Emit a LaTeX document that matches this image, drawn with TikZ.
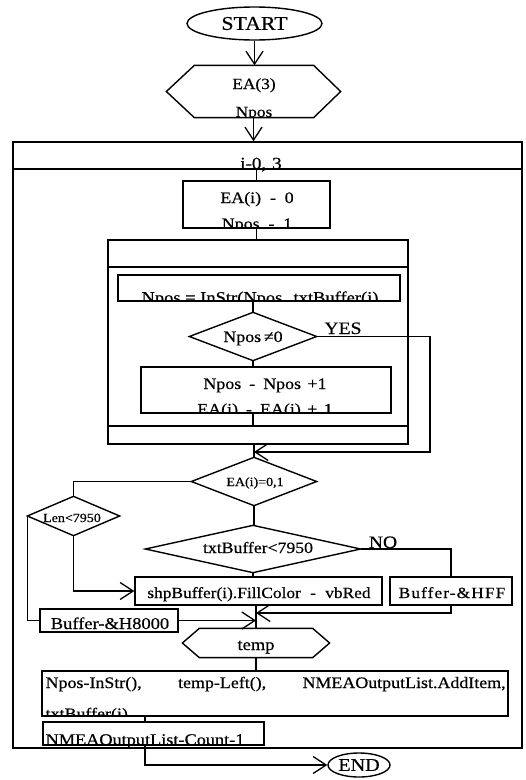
\documentclass[tikz,border=0pt]{standalone}
\usepackage{fontspec}
\setmainfont{Liberation Serif}[FakeStretch=1.12,FakeBold=0.5]
\usetikzlibrary{arrows.meta,shapes.geometric}
\newcommand{\fsz}[1]{\fontsize{#1}{#1}\selectfont}
\begin{document}
\begin{tikzpicture}[x=1pt,y=-1pt,
  line width=1.3pt,
  shp/.style={draw,line width=1.4pt,inner sep=0pt},
  ghost/.style={inner sep=0pt,rectangle},
  txt/.style={anchor=base,inner sep=0pt},
  txtl/.style={anchor=base west,inner sep=0pt},
  arr/.style={-{Straight Barb[length=13pt,width=17pt]},line width=1.3pt},
  ell/.style={shp,ellipse},
  lbl/.style={anchor=base,inner sep=0pt}]
\useasboundingbox (0,0) rectangle (526,780);
% ---------- shapes ----------
\node[ell,minimum width=135pt,minimum height=33pt] (start) at (254.5,23.5) {\fsz{19.5}START};
\node[ghost,minimum width=173pt,minimum height=51pt] (hexA) at (253.5,91.5) {};
\draw[line width=1.4pt] (hexA.west) -- ([xshift=28pt]hexA.north west) -- ([xshift=-27pt]hexA.north east)
  -- (hexA.east) -- ([xshift=-27pt]hexA.south east) -- ([xshift=28pt]hexA.south west) -- cycle;
\node[txt] (tEA3) at (254,89) {\fsz{15.5}EA(3)};
\begin{scope}
\clip (hexA.north west) rectangle (hexA.south east);
\node[txt] (tNpos0) at (254,117) {\fsz{15.5}Npos};
\end{scope}
% outer loop
\node[shp,minimum width=509pt,minimum height=606pt] (outer) at (267.5,445) {};
\draw[line width=1.4pt] (13,169) -- (522,169);
\coordinate (hdr) at (256.5,169);
\node[txt] (ti) at (261,169) {\fsz{17}i-0,\hspace{6pt}3};
\node[shp,minimum width=147pt,minimum height=47pt] (eabox) at (256.5,204.5) {};
\node[txt] (tea0) at (257,203) {\fsz{16}EA(i)\hspace{.55em}-\hspace{.55em}0};
\begin{scope}
\clip (eabox.north west) rectangle (eabox.south east);
\node[txt] (tnp1) at (257,229) {\fsz{16}Npos\hspace{.55em}-\hspace{.55em}1};
\end{scope}
% inner loop
\node[shp,minimum width=300pt,minimum height=204pt] (inner) at (258,342) {};
\draw[line width=1.4pt] (108,267) -- (408,267);
\draw[line width=1.4pt] (108,426) -- (408,426);
\coordinate (foot) at (253,426);
\node[shp,minimum width=282pt,minimum height=26pt] (instr) at (259,288) {};
\begin{scope}
\clip (instr.north west) rectangle (instr.south east);
\node[txt] (tinstr) at (260,303) {\fsz{16.5}Npos = InStr(Npos,\hspace{.4em}txtBuffer(i)};
\end{scope}
\node[ghost,minimum width=126pt,minimum height=47pt] (d1) at (253,336.5) {};
\draw[line width=1.4pt] (d1.west) -- (d1.north) -- (d1.east) -- (d1.south) -- cycle;
\node[txt] (td1) at (253,342) {\fsz{16}Npos\,≠0};
\node[lbl] (yes) at (343,334) {\fsz{17.5}YES};
\node[shp,minimum width=250pt,minimum height=46pt] (incbox) at (266,390) {};
\node[txt] (tinc1) at (265,389) {\fsz{16}Npos\hspace{.5em}-\hspace{.5em}Npos\hspace{.4em}+1};
\begin{scope}
\clip (incbox.north west) rectangle (incbox.south east);
\node[txt] (tinc2) at (265,414.5) {\fsz{16}EA(i)\hspace{.5em}-\hspace{.5em}EA(i)\hspace{.4em}+\hspace{.4em}1};
\end{scope}
% decisions
\node[ghost,minimum width=124pt,minimum height=47pt] (d2) at (254,481.5) {};
\draw[line width=1.4pt] (d2.west) -- (d2.north) -- (d2.east) -- (d2.south) -- cycle;
\node[txt] (td2) at (255,486) {\fsz{12.5}EA(i)=0,1};
\node[ghost,minimum width=91pt,minimum height=38pt] (d3) at (73.5,516) {};
\draw[line width=1.4pt] (d3.west) -- (d3.north) -- (d3.east) -- (d3.south) -- cycle;
\node[txt] (td3) at (72,522) {\fsz{12.5}Len<7950};
\node[ghost,minimum width=214pt,minimum height=46pt] (d4) at (253,549) {};
\draw[line width=1.4pt] (d4.west) -- (d4.north) -- (d4.east) -- (d4.south) -- cycle;
\node[txt] (td4) at (258,553) {\fsz{15.8}txtBuffer<7950};
\node[lbl] (no) at (383,548) {\fsz{17.5}NO};
\node[shp,minimum width=247pt,minimum height=28pt] (shpb) at (258.5,591) {};
\node[txt] (tshp) at (259,598) {\fsz{15.5}shpBuffer(i).FillColor\hspace{.6em}-\hspace{.6em}vbRed};
\node[shp,minimum width=122pt,minimum height=28pt] (hff) at (451,591) {};
\node[txt] (thff) at (452,598) {\fsz{15.5}\addfontfeature{LetterSpace=7}Buffer-\&HFF};
\node[shp,minimum width=138pt,minimum height=23pt] (b8) at (109,620.5) {};
\node[txt] (tb8) at (110,629) {\fsz{16.5}Buffer-\&H8000};
\node[ghost,minimum width=146pt,minimum height=28pt] (temp) at (256,643) {};
\draw[line width=1.4pt] (temp.west) -- ([xshift=17pt]temp.north west) -- ([xshift=-17pt]temp.north east)
  -- (temp.east) -- ([xshift=-17pt]temp.south east) -- ([xshift=17pt]temp.south west) -- cycle;
\node[txt] (ttemp) at (256,650) {\fsz{16.5}temp};
\node[shp,minimum width=466pt,minimum height=45pt] (big) at (275,693.5) {};
\node[txtl] (tbig1) at (45,688) {\fsz{16}\makebox[460pt][s]{Npos-InStr(),\hfill temp-Left(),\hfill NMEAOutputList.AddItem,}};
\begin{scope}
\clip (big.north west) rectangle (big.south east);
\node[txtl] (tbig2) at (45,719) {\fsz{16}txtBuffer(i)};
\end{scope}
\node[shp,minimum width=221pt,minimum height=23pt] (nmea) at (153.5,733.5) {};
\node[txtl] (tnmea) at (45,745) {\fsz{16.3}NMEAOutputList-Count-1};
\node[ell,minimum width=62pt,minimum height=24pt] (endn) at (359,765) {\fsz{18}END};
% ---------- connectors ----------
\draw[arr] (start.south) -- (start.south |- hexA.north);
\draw[arr] (hexA.south) -- (hexA.south |- outer.north);
\draw (eabox.north |- hdr) -- (eabox.north);
\draw (eabox.south) -- (eabox.south |- inner.north);
\draw (d1.north |- instr.south) -- (d1.north);
\draw (d1.south) -- (d1.south |- incbox.north);
\draw (d1.south |- incbox.south) -- (d1.south |- foot);
\draw (d2.north |- inner.south) -- (d2.north);
\coordinate (yj) at (430,452);
\draw[arr] (d1.east) -| (yj) -- (yj -| d2.north);
\draw (d2.west) -| (d3.north);
\draw (d2.south) -- (d2.south |- d4.north);
\draw[arr] (d3.south) |- (shpb.west);
\draw (d3.west) |- (b8.west);
\draw (d4.east) -| (hff.north);
\draw (d4.south) -- (d4.south |- shpb.north);
\coordinate (m1) at (256,613);
\draw[arr] (hff.south) |- (m1);
\draw (temp.north |- shpb.south) -- (temp.north);
\draw[arr] (b8.east) -- (b8.east -| temp.north);
\draw (temp.south) -- (temp.south |- big.north);
\draw ([xshift=-8.5pt]nmea.north |- big.south) -- ([xshift=-8.5pt]nmea.north);
\draw[arr] ([xshift=-8.5pt]nmea.south) |- (endn.west);
\end{tikzpicture}
\end{document}
